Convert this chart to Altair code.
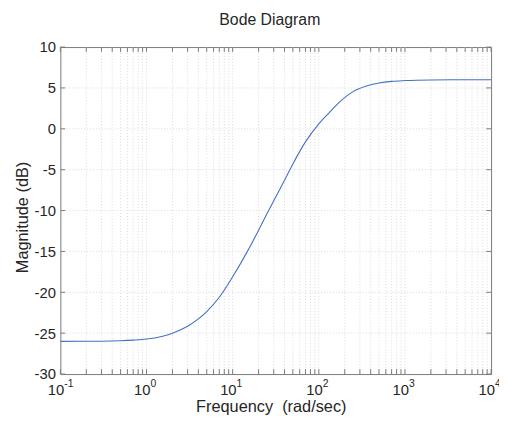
import altair as alt
import pandas as pd

# Bode magnitude curve
freq = [0.1, 0.3, 0.5, 0.7, 1, 1.5, 2, 3, 4, 5, 7, 10, 15, 20, 25, 30, 40, 50, 70,
        100, 130, 175, 250, 350, 500, 700, 1000, 2000, 5000, 10000]
mag = [-26.0, -25.98, -25.93, -25.85, -25.72, -25.4, -25.0, -24.15, -23.25, -22.35,
       -20.6, -18.1, -14.9, -12.4, -10.4, -8.8, -6.3, -4.3, -1.6,
       0.6, 1.9, 3.3, 4.55, 5.2, 5.6, 5.8, 5.9, 5.98, 6.0, 6.0]

decade_vals = [0.1, 1, 10, 100, 1000, 10000]
decade_base = ["10", "10", "10", "10", "10", "10"]
decade_exp = ["-1", "0", "1", "2", "3", "4"]
minor_vals = [0.2, 0.3, 0.4, 0.5, 0.6, 0.7, 0.8, 0.9,
              2, 3, 4, 5, 6, 7, 8, 9,
              20, 30, 40, 50, 60, 70, 80, 90,
              200, 300, 400, 500, 600, 700, 800, 900,
              2000, 3000, 4000, 5000, 6000, 7000, 8000, 9000]
y_ticks = [-30, -25, -20, -15, -10, -5, 0, 5, 10]

FONT = "Liberation Sans"
TXT = "#262626"
EDGE = "#7a7a7a"

xs = alt.Scale(type="log", domain=[0.1, 10000], nice=False)
ys = alt.Scale(domain=[-30, 10], nice=False, zero=False)

X_AX = alt.Axis(title="Frequency\u00a0 (rad/sec)", labels=False, ticks=False, grid=False,
                domain=False, titleFont=FONT, titleFontSize=16.5, titleFontWeight="normal",
                titleColor=TXT, titlePadding=25, titleX=213)
Y_AX = alt.Axis(title="Magnitude (dB)", values=y_ticks, ticks=False, grid=False,
                domain=False, labelFont=FONT, labelFontSize=15, labelColor=TXT,
                labelExpr="toString(datum.value)",
                labelPadding=5, titleFont=FONT, titleFontSize=16.5,
                titleFontWeight="normal", titleColor=TXT, titlePadding=4, titleY=172)

curve_df = pd.DataFrame({"f": freq, "m": mag})
xgrid_df = pd.DataFrame({"f": sorted(minor_vals + decade_vals[1:-1])})
xt = sorted(minor_vals + decade_vals)
xtick_df = pd.DataFrame({
    "f": xt + xt,
    "m": [-30] * len(xt) + [10] * len(xt),
    "m2": [-29.4] * len(xt) + [9.4] * len(xt),
})
ygrid_df = pd.DataFrame({"m": y_ticks[1:-1]})
ytick_df = pd.DataFrame({
    "m": y_ticks + y_ticks,
    "f": [0.1] * len(y_ticks) + [10000] * len(y_ticks),
    "f2": [0.1137] * len(y_ticks) + [8800] * len(y_ticks),
})
lab_df = pd.DataFrame({"f": decade_vals, "b": decade_base, "e": decade_exp,
                       "m": [-30] * len(decade_vals)})


def X(field="f:Q"):
    return alt.X(field, scale=xs, axis=X_AX)


def Y(field="m:Q"):
    return alt.Y(field, scale=ys, axis=Y_AX)


grid_x = alt.Chart(xgrid_df).mark_rule(color="#dadada", strokeDash=[1, 2], strokeWidth=1).encode(
    x=X()
)
grid_y = alt.Chart(ygrid_df).mark_rule(color="#dadada", strokeDash=[1, 2], strokeWidth=1).encode(
    y=Y()
)
xticks = alt.Chart(xtick_df).mark_rule(color=EDGE).encode(x=X(), y=Y(), y2="m2:Q")
yticks = alt.Chart(ytick_df).mark_rule(color=EDGE).encode(y=Y(), x=X(), x2="f2:Q")

curve = alt.Chart(curve_df).mark_line(color="#4470c8", strokeWidth=1.1,
                                      interpolate="monotone").encode(x=X(), y=Y())

lab_base = alt.Chart(lab_df).mark_text(font=FONT, fontSize=15, color=TXT, align="right",
                                       baseline="middle", dx=4, dy=16).encode(
    x=X(), y=Y(), text="b:N"
)
lab_exp = alt.Chart(lab_df).mark_text(font=FONT, fontSize=10.5, color=TXT, align="left",
                                      baseline="middle", dx=4, dy=10).encode(
    x=X(), y=Y(), text="e:N"
)

chart = alt.layer(grid_x, grid_y, xticks, yticks, curve,
                  lab_base, lab_exp).properties(
    width=436, height=331,
    title=alt.TitleParams("Bode Diagram", font=FONT, fontSize=16, fontWeight="normal",
                          color=TXT, anchor="middle", offset=12, dx=-6),
    autosize=alt.AutoSizeParams(type="none"),
    padding={"left": 53, "top": 37, "right": 8, "bottom": 47},
).configure_view(stroke=EDGE, strokeWidth=1)

chart.save("out.html", embed_options={"renderer": "svg", "actions": False})
